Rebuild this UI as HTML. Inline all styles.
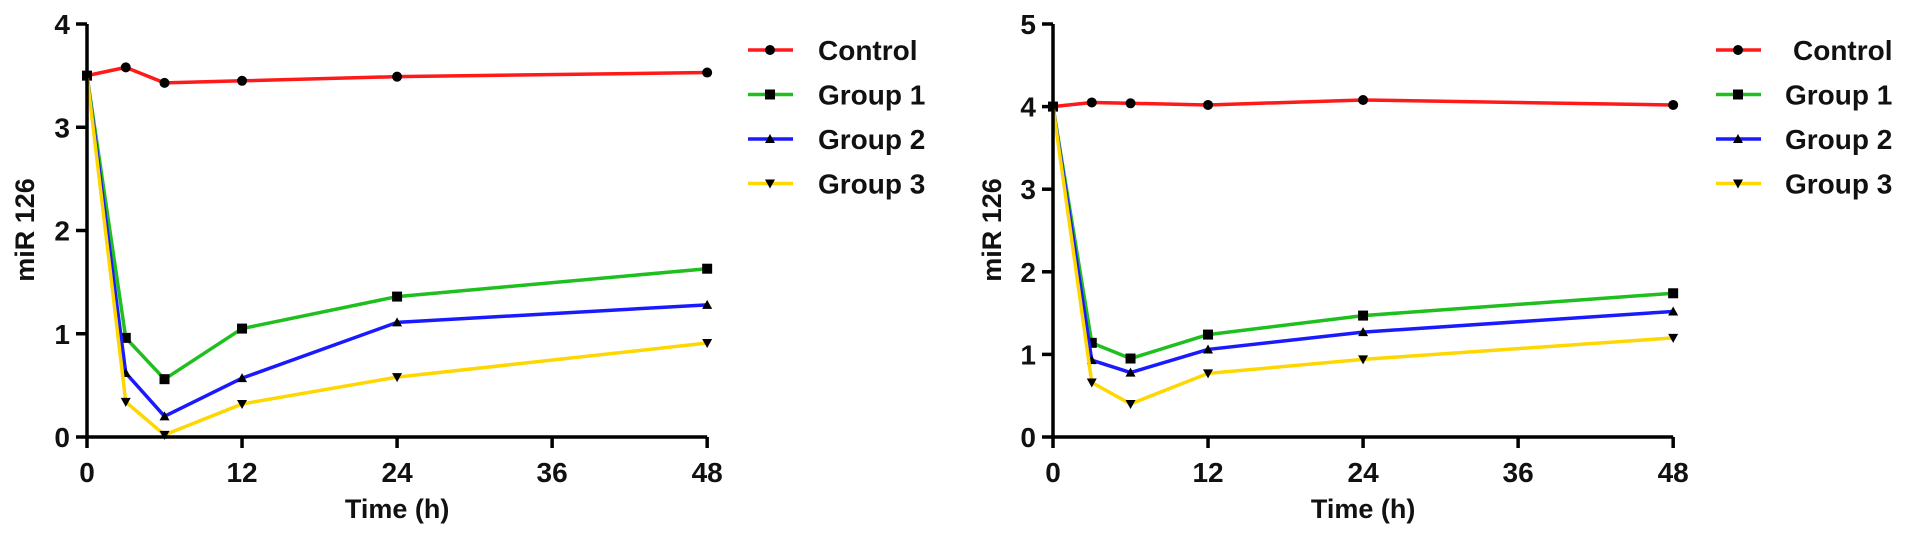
<!DOCTYPE html>
<html><head><meta charset="utf-8"><style>
html,body{margin:0;padding:0;background:#fff;}
svg{display:block;font-family:"Liberation Sans",Arial,sans-serif;font-weight:bold;}
</style></head><body>
<svg id="chart" width="1913" height="543" viewBox="0 0 1913 543" xmlns="http://www.w3.org/2000/svg"></svg>
<script>
const times = [0, 3, 6, 12, 24, 48];
const seriesNames = ["Control", "Group 1", "Group 2", "Group 3"];
const xTicks = [0, 12, 24, 36, 48];
const leftYTicks = [0, 1, 2, 3, 4];
const rightYTicks = [0, 1, 2, 3, 4, 5];
const leftControl = [3.5, 3.58, 3.43, 3.45, 3.49, 3.53];
const leftGroup1 = [3.5, 0.96, 0.56, 1.05, 1.36, 1.63];
const leftGroup2 = [3.5, 0.62, 0.2, 0.57, 1.11, 1.28];
const leftGroup3 = [3.5, 0.34, 0.02, 0.32, 0.58, 0.91];
const rightControl = [4.0, 4.05, 4.04, 4.02, 4.08, 4.02];
const rightGroup1 = [4.0, 1.14, 0.95, 1.24, 1.47, 1.74];
const rightGroup2 = [4.0, 0.93, 0.78, 1.06, 1.27, 1.52];
const rightGroup3 = [4.0, 0.66, 0.4, 0.77, 0.94, 1.2];

const colors = ["#ff1a1a", "#1fbf1f", "#1a1aff", "#ffd700"];
const markers = ["circle", "square", "tri", "tridown"];
const NS = "http://www.w3.org/2000/svg";
const svg = document.getElementById("chart");
function mk(tag, attrs, parent) {
  const e = document.createElementNS(NS, tag);
  for (const k in attrs) e.setAttribute(k, attrs[k]);
  (parent || svg).appendChild(e);
  return e;
}
function marker(g, type, cx, cy) {
  let m;
  if (type === "circle") m = mk("circle", {cx: cx, cy: cy, r: 5, fill: "#000"}, g);
  else if (type === "square") m = mk("rect", {x: cx - 5, y: cy - 5, width: 10, height: 10, fill: "#000"}, g);
  else if (type === "tri") m = mk("polygon", {points: `${cx},${cy-5} ${cx-5},${cy+4} ${cx+5},${cy+4}`, fill: "#000"}, g);
  else m = mk("polygon", {points: `${cx},${cy+5} ${cx-5},${cy-4} ${cx+5},${cy-4}`, fill: "#000"}, g);
  return m;
}
function drawPanel(id, x0, y0, yTop, yMax, yTicks, data, legX, textX, ctrlLabel, titleX) {
  const panel = mk("g", {});
  
  
  const xs = t => x0 + t * 12.92;
  const ys = v => y0 - v * (y0 - yTop) / yMax;
  data.forEach((vals, si) => {
    const g = mk("g", {}, panel);
    
    
    const pts = vals.map((v, i) => xs(times[i]) + "," + ys(v)).join(" ");
    const pl = mk("polyline", {points: pts, fill: "none", stroke: colors[si], "stroke-width": 3.5, "stroke-linejoin": "round"}, g);
    
    
    vals.forEach((v, i) => {
      const m = marker(g, markers[si], xs(times[i]), ys(v));
      
      
    });
  });
  const ax = mk("g", {stroke: "#000", "stroke-width": 3.5, fill: "none"}, panel);
  
  
  mk("line", {x1: x0, y1: yTop, x2: x0, y2: y0 + 1.5}, ax);
  mk("line", {x1: x0 - 1.5, y1: y0, x2: xs(48), y2: y0}, ax);
  yTicks.forEach(v => {
    mk("line", {x1: x0 - 11, y1: ys(v), x2: x0, y2: ys(v)}, ax);
    const t = mk("text", {x: x0 - 17, y: ys(v) + 10, "text-anchor": "end", "font-size": 28, fill: "#111"}, panel);
    t.textContent = v;
    
    
  });
  xTicks.forEach(v => {
    mk("line", {x1: xs(v), y1: y0, x2: xs(v), y2: y0 + 11}, ax);
    const t = mk("text", {x: xs(v), y: 482, "text-anchor": "middle", "font-size": 28, fill: "#111"}, panel);
    t.textContent = v;
    
    
  });
  const xt = mk("text", {x: (x0 + xs(48)) / 2, y: 518, "text-anchor": "middle", "font-size": 27, fill: "#111"}, panel);
  xt.textContent = "Time (h)";
  
  
  const yt = mk("text", {x: 0, y: 0, "text-anchor": "middle", "font-size": 27, fill: "#111", transform: `translate(${titleX},230) rotate(-90)`}, panel);
  yt.textContent = "miR 126";
  
  
  const leg = mk("g", {}, panel);
  
  
  seriesNames.forEach((n, i) => {
    const y = 50 + i * 44.5;
    const e = mk("g", {}, leg);
    
    
    mk("line", {x1: legX, y1: y, x2: legX + 45, y2: y, stroke: colors[i], "stroke-width": 3.5}, e);
    marker(e, markers[i], legX + 22, y);
    const t = mk("text", {x: textX + (i === 0 ? ctrlLabel : 0), y: y + 10, "font-size": 28, fill: "#111"}, e);
    t.textContent = n;
  });
}
drawPanel("left-chart", 87, 437, 24, 4, leftYTicks, [leftControl, leftGroup1, leftGroup2, leftGroup3], 748, 818, 0, 34);
drawPanel("right-chart", 1053, 437, 24, 5, rightYTicks, [rightControl, rightGroup1, rightGroup2, rightGroup3], 1716, 1785, 8, 1001);
</script>
</body></html>
